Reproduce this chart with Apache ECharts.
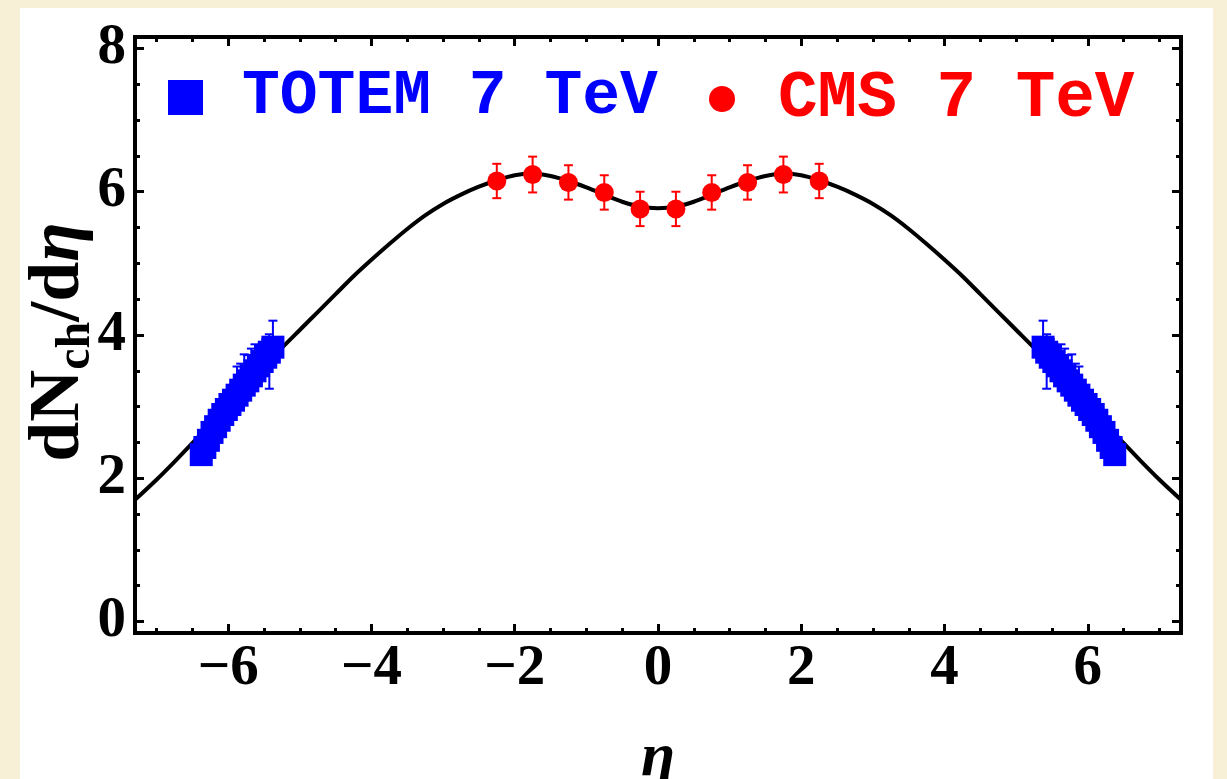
<!DOCTYPE html>
<html><head><meta charset="utf-8">
<script src="https://cdn.jsdelivr.net/npm/echarts@6/dist/echarts.min.js"></script>
<style>html,body{margin:0;padding:0;background:#f8f0d6;}#c{width:1227px;height:779px;}</style>
</head><body><div id="c"></div>
<script>
// ---- tick positions & labels ----
const xMajorTicks = [-6, -4, -2, 0, 2, 4, 6];
const xTickLabels = ['\u22126', '\u22124', '\u22122', '0', '2', '4', '6'];
const xMinorTicks = [-7, -6.5, -6, -5.5, -5, -4.5, -4, -3.5, -3, -2.5, -2, -1.5, -1, -0.5, 0, 0.5, 1, 1.5, 2, 2.5, 3, 3.5, 4, 4.5, 5, 5.5, 6, 6.5, 7];
const yMajorTicks = [0, 2, 4, 6, 8];
const yTickLabels = ['0', '2', '4', '6', '8'];
const yMinorTicks = [0, 0.5, 1, 1.5, 2, 2.5, 3, 3.5, 4, 4.5, 5, 5.5, 6, 6.5, 7, 7.5, 8];

// ---- model curve ----
const curveEta = [-7.3, -7.0, -6.75, -6.5, -6.25, -6.0, -5.75, -5.5, -5.25, -5.0, -4.75, -4.5, -4.25, -4.0, -3.75, -3.5, -3.25, -3.0, -2.75, -2.5, -2.25, -2.0, -1.75, -1.5, -1.25, -1.0, -0.75, -0.5, -0.25, 0,
  0.25, 0.5, 0.75, 1.0, 1.25, 1.5, 1.75, 2.0, 2.25, 2.5, 2.75, 3.0, 3.25, 3.5, 3.75, 4.0, 4.25, 4.5, 4.75, 5.0, 5.25, 5.5, 5.75, 6.0, 6.25, 6.5, 6.75, 7.0, 7.3];
const curveVal = [1.70, 1.98, 2.23, 2.49, 2.76, 3.02, 3.29, 3.56, 3.82, 4.07, 4.32, 4.57, 4.82, 5.05, 5.27, 5.48, 5.67, 5.83, 5.96, 6.07, 6.16, 6.23, 6.25, 6.22, 6.15, 6.06, 5.96, 5.86, 5.79, 5.77,
  5.79, 5.86, 5.96, 6.06, 6.15, 6.22, 6.25, 6.23, 6.16, 6.07, 5.96, 5.83, 5.67, 5.48, 5.27, 5.05, 4.82, 4.57, 4.32, 4.07, 3.82, 3.56, 3.29, 3.02, 2.76, 2.49, 2.23, 1.98, 1.70];

// ---- CMS 7 TeV ----
const cmsEta = [-2.25, -1.75, -1.25, -0.75, -0.25, 0.25, 0.75, 1.25, 1.75, 2.25];
const cmsVal = [6.15, 6.24, 6.13, 5.99, 5.76, 5.76, 5.99, 6.13, 6.24, 6.15];
const cmsErr = [0.24, 0.25, 0.24, 0.24, 0.24, 0.24, 0.24, 0.24, 0.25, 0.24];

// ---- TOTEM 7 TeV ----
const totemEtaRight = [5.375, 5.425, 5.475, 5.525, 5.575, 5.625, 5.675, 5.725, 5.775, 5.825, 5.875, 5.925, 5.975, 6.025, 6.075, 6.125, 6.175, 6.225, 6.275, 6.325, 6.375];
const totemValRight = [3.83, 3.76, 3.69, 3.63, 3.57, 3.50, 3.43, 3.36, 3.30, 3.23, 3.16, 3.09, 3.03, 2.96, 2.89, 2.81, 2.72, 2.64, 2.53, 2.43, 2.33];
const totemUpRight = [0.37, 0.25, 0.25, 0.25, 0.28, 0.37, 0.38, 0.36, 0.43, 0.37, 0.40, 0.2, 0.2, 0.2, 0.2, 0.2, 0.2, 0.2, 0.2, 0.2, 0.2];
const totemDownRight = [0.1, 0.51, 0.1, 0.1, 0.1, 0.1, 0.1, 0.1, 0.1, 0.1, 0.1, 0.1, 0.1, 0.1, 0.1, 0.1, 0.1, 0.1, 0.1, 0.1, 0.1];
const totemEtaLeft = [-5.375, -5.425, -5.475, -5.525, -5.575, -5.625, -5.675, -5.725, -5.775, -5.825, -5.875, -5.925, -5.975, -6.025, -6.075, -6.125, -6.175, -6.225, -6.275, -6.325, -6.375];
const totemValLeft = [3.83, 3.76, 3.69, 3.63, 3.57, 3.50, 3.43, 3.36, 3.30, 3.23, 3.16, 3.09, 3.03, 2.96, 2.89, 2.81, 2.72, 2.64, 2.53, 2.43, 2.33];
const totemUpLeft = [0.37, 0.25, 0.25, 0.25, 0.28, 0.37, 0.38, 0.36, 0.43, 0.37, 0.40, 0.2, 0.2, 0.2, 0.2, 0.2, 0.2, 0.2, 0.2, 0.2, 0.2];
const totemDownLeft = [0.1, 0.51, 0.1, 0.1, 0.1, 0.1, 0.1, 0.1, 0.1, 0.1, 0.1, 0.1, 0.1, 0.1, 0.1, 0.1, 0.1, 0.1, 0.1, 0.1, 0.1];

const BLUE = '#0000ff', RED = '#ff0000';
const SERIF = "'Liberation Serif','Times New Roman',serif";
const MONO = "'Courier New','Liberation Mono',monospace";

const X_MIN = -7.3, X_MAX = 7.3, Y_MIN = -0.16, Y_MAX = 8.16;

function tickAxis(min, max, pos, ticks, len, labels, extra) {
  const ax = {
    type: 'value', gridIndex: 0, min: min, max: max, position: pos,
    splitLine: { show: false }, axisLine: { show: false, onZero: false },
    nameMoveOverlap: false,
    axisTick: { show: true, inside: true, length: len, customValues: ticks, lineStyle: { color: '#000', width: 3 } },
    axisLabel: { show: false }
  };
  if (labels) {
    ax.axisLabel = {
      show: true, customValues: ticks,
      formatter: function (v) { const i = ticks.indexOf(v); return i >= 0 ? labels[i] : ''; },
      fontFamily: SERIF, fontWeight: 'bold', fontSize: 57, color: '#000', margin: pos === 'left' ? 9 : 8
    };
  }
  return Object.assign(ax, extra || {});
}

const totemData = [];
totemEtaLeft.forEach((e, i) => totemData.push([e, totemValLeft[i]]));
totemEtaRight.forEach((e, i) => totemData.push([e, totemValRight[i]]));
const totemErrData = [];
totemEtaLeft.forEach((e, i) => totemErrData.push([e, totemValLeft[i] - totemDownLeft[i], totemValLeft[i] + totemUpLeft[i]]));
totemEtaRight.forEach((e, i) => totemErrData.push([e, totemValRight[i] - totemDownRight[i], totemValRight[i] + totemUpRight[i]]));
const cmsData = cmsEta.map((e, i) => [e, cmsVal[i]]);
const cmsErrData = cmsEta.map((e, i) => [e, cmsVal[i] - cmsErr[i], cmsVal[i] + cmsErr[i]]);
const curveData = curveEta.map((e, i) => [e, curveVal[i]]);

function errorBars(name, data, color, z) {
  return {
    type: 'custom', name: name, xAxisIndex: 0, yAxisIndex: 0, z: z, silent: true,
    encode: { x: 0, y: [1, 2] },
    data: data,
    renderItem: function (params, api) {
      const x = api.value(0);
      const pLo = api.coord([x, api.value(1)]);
      const pHi = api.coord([x, api.value(2)]);
      const hw = 4.5;
      const st = { stroke: color, lineWidth: 2 };
      return {
        type: 'group', children: [
          { type: 'line', shape: { x1: pLo[0], y1: pLo[1], x2: pHi[0], y2: pHi[1] }, style: st },
          { type: 'line', shape: { x1: pLo[0] - hw, y1: pLo[1], x2: pLo[0] + hw, y2: pLo[1] }, style: st },
          { type: 'line', shape: { x1: pHi[0] - hw, y1: pHi[1], x2: pHi[0] + hw, y2: pHi[1] }, style: st }
        ]
      };
    }
  };
}

const chart = echarts.init(document.getElementById('c'), null, { renderer: 'canvas' });
chart.setOption({
  animation: false,
  backgroundColor: '#f8f0d6',
  graphic: [{
    type: 'rect', left: 20, top: 8, shape: { width: 1193, height: 771 },
    style: { fill: '#ffffff' }, z: -10, silent: true
  }],
  grid: {
    left: 135, right: 46, top: 37, bottom: 146,
    show: true, borderColor: '#000', borderWidth: 4, backgroundColor: '#ffffff',
    containLabel: false, outerBoundsMode: 'none'
  },
  legend: [
    {
      data: [{ name: 'TOTEM 7 TeV', icon: 'rect' }], left: 168, top: 66, padding: 0,
      itemWidth: 35, itemHeight: 35, selectedMode: false,
      itemStyle: { opacity: 1 },
      textStyle: { color: BLUE, fontSize: 63, lineHeight: 63, fontFamily: MONO, fontWeight: 'bold', padding: [0, 0, 0, 34] }
    },
    {
      data: [{ name: 'CMS 7 TeV', icon: 'circle' }], left: 709, top: 66, padding: 0,
      itemWidth: 26, itemHeight: 26, selectedMode: false,
      itemStyle: { opacity: 1 },
      textStyle: { color: RED, fontSize: 66, lineHeight: 63, fontFamily: MONO, fontWeight: 'bold', padding: [0, 0, 0, 38] }
    }
  ],
  xAxis: [
    tickAxis(X_MIN, X_MAX, 'bottom', xMajorTicks, 9, xTickLabels, {
      name: '\u03b7', nameLocation: 'middle', nameGap: 95,
      nameTextStyle: { fontFamily: SERIF, fontWeight: 'bold', fontStyle: 'italic', fontSize: 62, color: '#000' }
    }),
    tickAxis(X_MIN, X_MAX, 'bottom', xMinorTicks, 5),
    tickAxis(X_MIN, X_MAX, 'top', xMajorTicks, 9),
    tickAxis(X_MIN, X_MAX, 'top', xMinorTicks, 5)
  ],
  yAxis: [
    tickAxis(Y_MIN, Y_MAX, 'left', yMajorTicks, 9, yTickLabels, {
      name: '{a|dN}{s|ch}{a|/d}{e|\u03b7}', nameLocation: 'middle', nameGap: 34, nameRotate: 90,
      nameTextStyle: {
        rich: {
          a: { fontFamily: SERIF, fontWeight: 'bold', fontSize: 72, color: '#000' },
          s: { fontFamily: SERIF, fontWeight: 'bold', fontSize: 48, color: '#000', padding: [36, 0, 0, 0] },
          e: { fontFamily: SERIF, fontWeight: 'bold', fontStyle: 'italic', fontSize: 72, color: '#000', padding: [0, 14, 0, 0] }
        }
      }
    }),
    tickAxis(Y_MIN, Y_MAX, 'left', yMinorTicks, 5),
    tickAxis(Y_MIN, Y_MAX, 'right', yMajorTicks, 9),
    tickAxis(Y_MIN, Y_MAX, 'right', yMinorTicks, 5)
  ],
  series: [
    {
      type: 'line', name: 'model', data: curveData, xAxisIndex: 0, yAxisIndex: 0,
      smooth: 0.3, showSymbol: false, symbol: 'none', silent: true, z: 2,
      lineStyle: { color: '#000', width: 4 }
    },
    errorBars('TOTEM err', totemErrData, BLUE, 3),
    errorBars('CMS err', cmsErrData, RED, 3),
    {
      type: 'scatter', name: 'TOTEM 7 TeV', data: totemData, xAxisIndex: 0, yAxisIndex: 0,
      symbol: 'rect', symbolSize: 23, itemStyle: { color: BLUE, opacity: 1 }, z: 4, silent: true
    },
    {
      type: 'scatter', name: 'CMS 7 TeV', data: cmsData, xAxisIndex: 0, yAxisIndex: 0,
      symbol: 'circle', symbolSize: 19, itemStyle: { color: RED, opacity: 1 }, z: 4, silent: true
    }
  ]
});
</script></body></html>
